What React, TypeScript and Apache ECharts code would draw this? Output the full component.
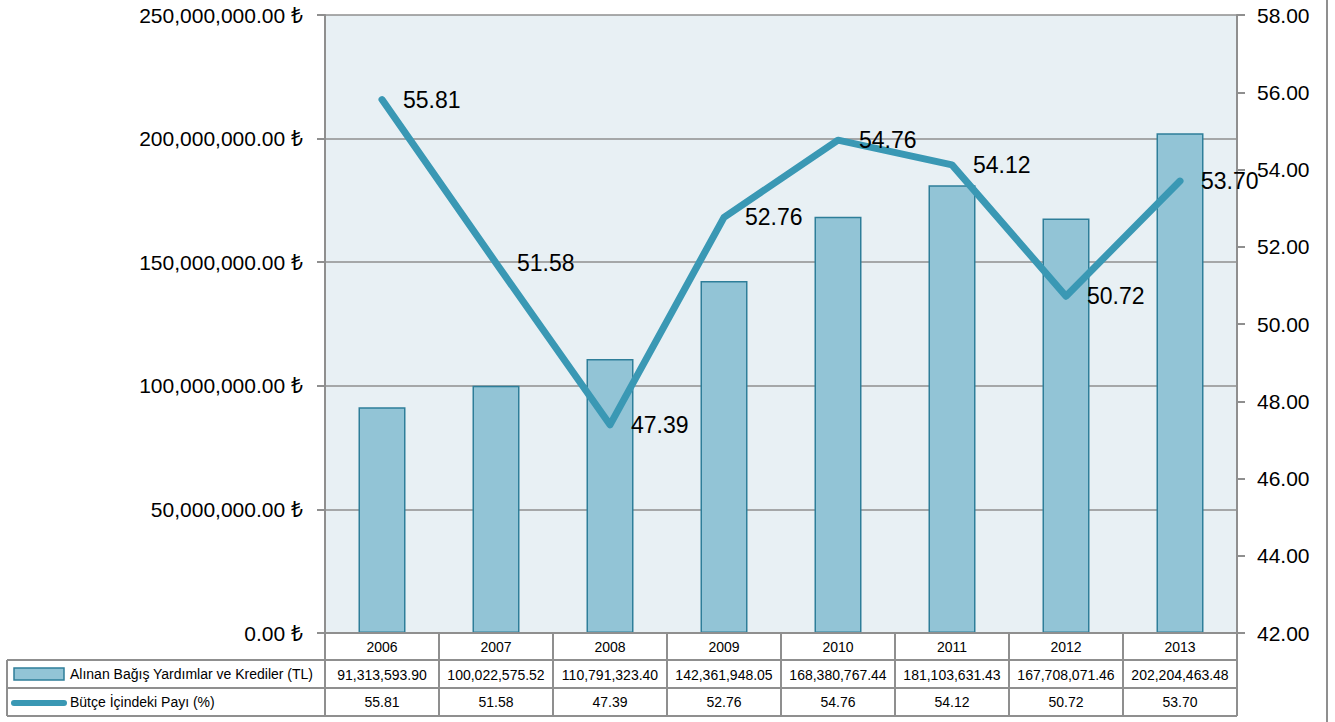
import React, { useEffect, useRef } from "react";
import * as echarts from "echarts";

const years = ["2006", "2007", "2008", "2009", "2010", "2011", "2012", "2013"];
const grants = [91313593.9, 100022575.52, 110791323.4, 142361948.05, 168380767.44, 181103631.43, 167708071.46, 202204463.48];
const shares = [55.81, 51.58, 47.39, 52.76, 54.76, 54.12, 50.72, 53.7];
const barName = "Alınan Bağış Yardımlar ve Krediler (TL)";
const lineName = "Bütçe İçindeki Payı (%)";

const W = 1335;
const H = 722;
const GL = 325;
const GR = 1237;
const GT = 15;
const GB = 633;
const ROW1 = 660;
const ROW2 = 688;
const ROW3 = 716;
const TABLE_LEFT = 7;

const FONT = "'Liberation Sans', 'Noto Sans', 'DejaVu Sans', sans-serif";
const GRID_COLOR = "#8f8f8f";
const BAR_FILL = "#92c4d6";
const BAR_BORDER = "#2e7e99";
const LINE_COLOR = "#3a98b4";

const fmt2 = (v: number) =>
  v.toLocaleString("en-US", { minimumFractionDigits: 2, maximumFractionDigits: 2 });

export default function App() {
  const ref = useRef<HTMLDivElement>(null);
  useEffect(() => {
    document.body.style.margin = "0";
    const chart = echarts.init(ref.current!, null, { renderer: "svg" });
    const colW = (GR - GL) / years.length;
    const lineStyle = { stroke: GRID_COLOR, lineWidth: 2 };
    const graphics: any[] = [];
    const hline = (x1: number, x2: number, y: number) =>
      graphics.push({ type: "line", shape: { x1, y1: y, x2, y2: y }, style: lineStyle, z: 10 });
    const vline = (x: number, y1: number, y2: number) =>
      graphics.push({ type: "line", shape: { x1: x, y1, x2: x, y2 }, style: lineStyle, z: 10 });
    hline(GL, GR, GB);
    hline(TABLE_LEFT, GR, ROW1);
    hline(TABLE_LEFT, GR, ROW2);
    hline(TABLE_LEFT, GR, ROW3);
    vline(TABLE_LEFT, ROW1, ROW3);
    for (let k = 0; k <= years.length; k++) vline(GL + k * colW, GB, ROW3);
    vline(1327, 0, H);
    graphics.push({
      type: "rect",
      shape: { x: 14, y: 668, width: 50, height: 12 },
      style: { fill: BAR_FILL, stroke: BAR_BORDER, lineWidth: 1.5 },
      z: 10,
    });
    graphics.push({
      type: "line",
      shape: { x1: 14, y1: 703, x2: 64, y2: 703 },
      style: { stroke: LINE_COLOR, lineWidth: 6, lineCap: "round" },
      z: 10,
    });
    graphics.push({
      type: "text",
      x: 70,
      y: 674,
      style: { text: barName, font: `14px ${FONT}`, fill: "#000", textVerticalAlign: "middle" },
      z: 10,
    });
    graphics.push({
      type: "text",
      x: 70,
      y: 702,
      style: { text: lineName, font: `14px ${FONT}`, fill: "#000", textVerticalAlign: "middle" },
      z: 10,
    });

    const tableAxis = (data: string[], offset: number) => ({
      type: "category",
      data,
      position: "bottom",
      offset,
      axisLine: { show: false },
      axisTick: { show: false },
      axisLabel: { fontSize: 14, color: "#000", fontFamily: FONT, margin: 7, interval: 0 },
    });

    chart.setOption({
      animation: false,
      backgroundColor: "#ffffff",
      textStyle: { fontFamily: FONT },
      grid: {
        left: GL,
        right: W - GR,
        top: GT,
        bottom: H - GB,
        show: true,
        backgroundColor: "#e8f0f4",
        borderWidth: 0,
      },
      xAxis: [
        {
          type: "category",
          data: years,
          axisLine: { show: true, lineStyle: { color: GRID_COLOR, width: 2 } },
          axisTick: { show: false },
          axisLabel: { fontSize: 14, color: "#000", fontFamily: FONT, margin: 7, interval: 0 },
        },
        tableAxis(grants.map(fmt2), 28),
        tableAxis(shares.map(fmt2), 55),
      ],
      yAxis: [
        {
          type: "value",
          min: 0,
          max: 250000000,
          interval: 50000000,
          axisLine: { show: true, lineStyle: { color: GRID_COLOR, width: 2 } },
          axisTick: { show: true, length: 8, lineStyle: { color: GRID_COLOR, width: 2 } },
          splitLine: { show: true, lineStyle: { color: GRID_COLOR, width: 1.5 } },
          axisLabel: {
            fontSize: 21,
            color: "#000",
            fontFamily: FONT,
            margin: 22,
            formatter: (v: number) => fmt2(v) + " ₺",
          },
        },
        {
          type: "value",
          min: 42,
          max: 58,
          interval: 2,
          position: "right",
          axisLine: { show: true, lineStyle: { color: GRID_COLOR, width: 2 } },
          axisTick: { show: true, length: 8, lineStyle: { color: GRID_COLOR, width: 2 } },
          splitLine: { show: false },
          axisLabel: {
            fontSize: 21,
            color: "#000",
            fontFamily: FONT,
            margin: 20,
            formatter: (v: number) => v.toFixed(2),
          },
        },
      ],
      series: [
        {
          name: barName,
          type: "bar",
          data: grants,
          xAxisIndex: 0,
          yAxisIndex: 0,
          barWidth: 47,
          itemStyle: { color: BAR_FILL, borderColor: BAR_BORDER, borderWidth: 1.5 },
        },
        {
          name: lineName,
          type: "line",
          data: shares,
          xAxisIndex: 0,
          yAxisIndex: 1,
          symbol: "circle",
          symbolSize: 2,
          showSymbol: true,
          itemStyle: { color: LINE_COLOR },
          lineStyle: { color: LINE_COLOR, width: 7, cap: "round", join: "round" },
          label: {
            show: true,
            position: "right",
            distance: 20,
            fontSize: 23,
            color: "#000",
            fontFamily: FONT,
            formatter: (p: any) => Number(p.value).toFixed(2),
          },
          labelLayout: { hideOverlap: false },
          z: 5,
        },
      ],
      graphic: graphics,
    });
    return () => chart.dispose();
  }, []);
  return <div ref={ref} style={{ width: W, height: H }} />;
}
